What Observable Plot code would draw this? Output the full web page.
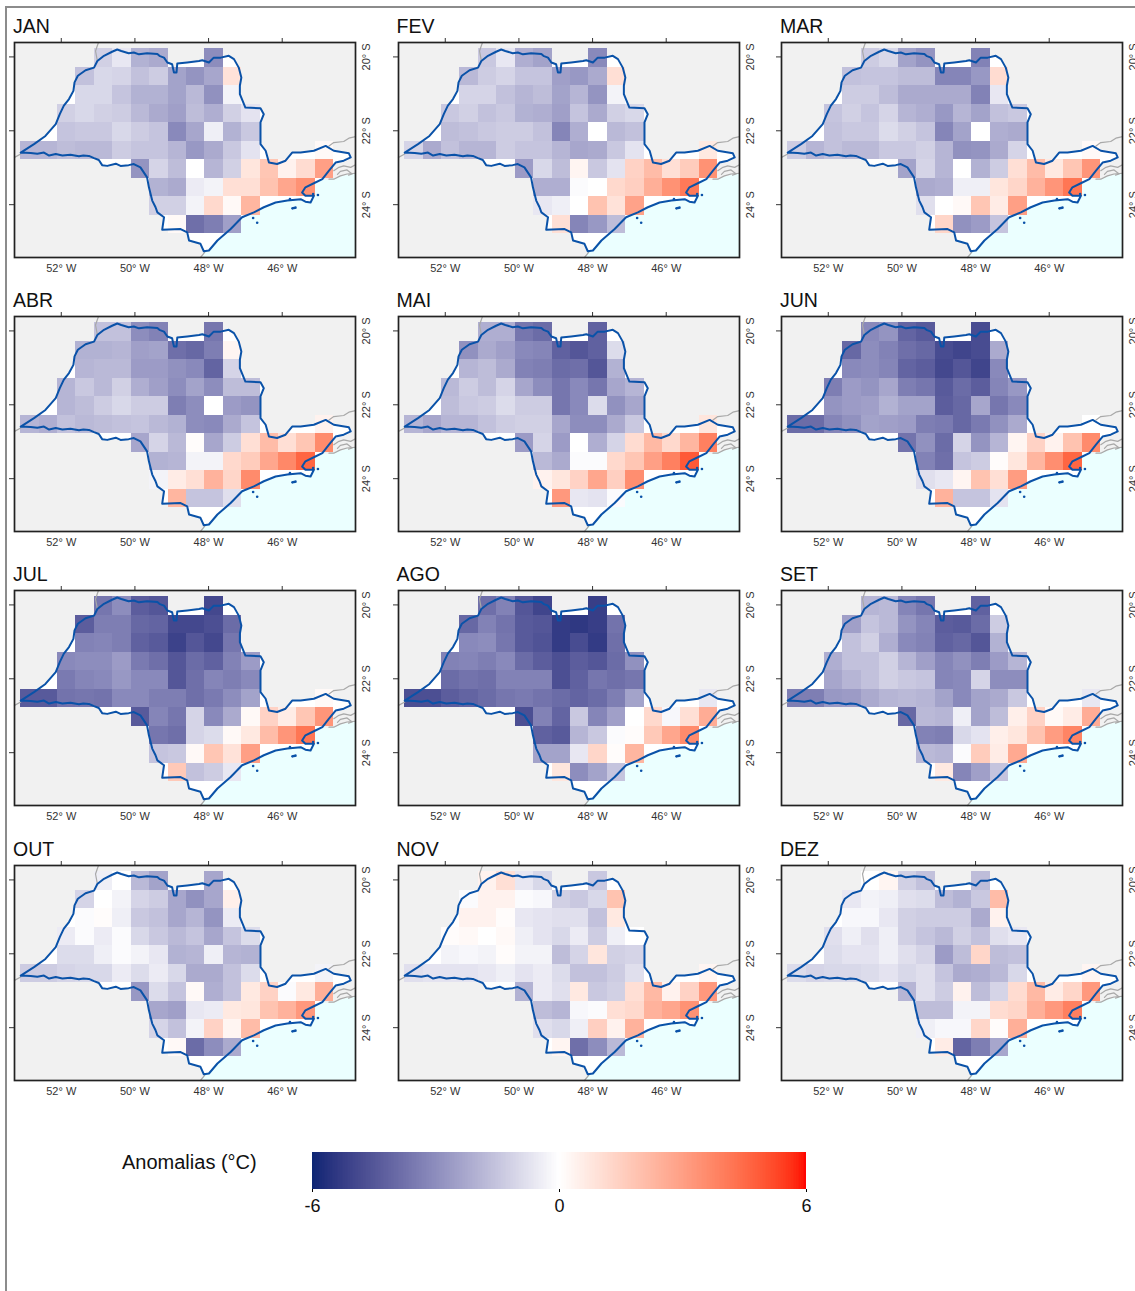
<!DOCTYPE html>
<html><head><meta charset="utf-8">
<script src="https://cdn.jsdelivr.net/npm/d3@7"></script>
<script src="https://cdn.jsdelivr.net/npm/@observablehq/plot@0.6"></script>
<style>
html,body{margin:0;padding:0;background:#fff;overflow:hidden}
#page{position:relative;width:1135px;height:1291px;overflow:hidden;font-family:"Liberation Sans",Arial,sans-serif}
#page svg{position:absolute;background:transparent;overflow:visible}
.rule{position:absolute;background:#8c8c8c}
.ttl{position:absolute;font-size:19.5px;line-height:20px;color:#111}
</style></head><body><div id="page"></div>
<script>
const months=["JAN","FEV","MAR","ABR","MAI","JUN","JUL","AGO","SET","OUT","NOV","DEZ"];
// grid rows: list of occupied columns, top row to bottom row
const rowCols=[[4,5,6,7,10],[3,4,5,6,7,8,9,10,11],[3,4,5,6,7,8,9,10,11],[2,3,4,5,6,7,8,9,10,11,12],[2,3,4,5,6,7,8,9,10,11,12],
[0,1,2,3,4,5,6,7,8,9,10,11,12,16],[6,7,8,9,10,11,12,13,14,15,16],[7,8,9,10,11,12,13,14,15],[7,8,9,10,11,12],[8,9,10,11]];
const westEdge=-53.10,northEdge=-19.78,cell=0.5;
const jan=[-1.2,-0.6,-2.0,-2.2,-3.0, -1.6,-1.0,-1.1,-1.6,-1.3,-2.4,-2.8,-2.3,0.9, -1.0,-1.0,-1.5,-2.0,-2.0,-2.4,-1.8,-2.9,-0.3,
-1.2,-1.0,-1.2,-1.3,-1.8,-2.2,-2.5,-1.7,-2.1,-1.2,-0.7, -1.5,-1.4,-1.4,-1.0,-1.3,-1.5,-3.1,-2.3,-0.4,-2.0,-1.4,
-1.9,-1.9,-1.7,-1.8,-1.8,-1.3,-1.5,-1.5,-1.9,-2.7,-2.2,-1.4,-0.7,0.2, -2.8,-1.1,-1.7,0,-1.9,-1.2,0.8,1.8,0.4,1.1,3.0,
-2.0,-2.2,-0.5,-0.3,1.0,1.0,1.9,2.8,3.4, -1.2,-1.2,-0.3,1.2,0.2,2.3, 0.2,-3.8,-3.4,-2.5];
const fev=[-1.4,-0.6,-2.1,-2.4,-3.1, -1.8,-1.3,-1.1,-1.5,-1.5,-2.5,-2.7,-2.2,1.0, -1.1,-1.1,-1.6,-1.9,-1.7,-2.4,-1.9,-2.8,-0.3,
-1.4,-1.2,-1.6,-1.4,-2.0,-2.1,-2.5,-1.5,-2.2,-1.2,-1.0, -1.7,-1.6,-1.4,-1.3,-1.3,-1.6,-3.2,-2.1,0,-1.8,-1.6,
-1.1,-2.2,-1.6,-1.9,-1.9,-1.3,-1.5,-1.5,-1.9,-2.3,-2.2,-1.4,-0.7,0.7, -2.6,-1.0,-1.7,0.3,-1.4,-0.7,1.4,2.1,1.0,1.6,3.4,
-2.1,-2.1,-0.1,0,1.2,1.5,2.5,3.4,4.1, -0.6,-0.4,0,1.9,0.9,2.9, 1.0,-3.2,-2.7,-1.7];
const mar=[-1.3,-1.0,-2.4,-2.8,-3.3, -1.6,-1.5,-1.5,-1.7,-1.7,-3.2,-3.2,-2.7,1.1, -1.3,-1.3,-1.7,-2.2,-2.2,-2.2,-2.2,-3.3,-0.6,
-1.5,-1.2,-1.5,-1.1,-1.9,-2.1,-2.7,-1.9,-2.4,-1.6,-1.4, -1.6,-1.4,-1.4,-0.9,-1.2,-1.5,-3.2,-2.4,0,-2.1,-2.2,
-1.3,-1.9,-1.6,-1.8,-1.8,-1.4,-1.4,-1.2,-1.9,-2.9,-2.8,-2.2,-1.1,0.2, -2.4,-1.1,-1.9,0,-2.0,-1.3,1.0,2.1,0.7,1.8,3.3,
-2.2,-2.1,-0.4,-0.4,0.8,1.3,2.4,3.3,4.2, -0.8,0,0.2,1.8,0.6,3.0, 1.3,-2.9,-2.6,-1.5];
const abr=[-1.6,-1.6,-3.0,-3.3,-3.6, -2.0,-2.0,-1.9,-2.5,-2.4,-3.8,-4.0,-3.4,0.3, -1.9,-1.8,-1.8,-2.6,-2.6,-2.9,-3.1,-4.1,-1.1,
-1.9,-1.4,-1.8,-1.2,-2.1,-2.5,-3.0,-2.4,-3.0,-1.7,-1.7, -1.9,-1.7,-1.3,-1.0,-1.3,-1.3,-3.4,-3.0,0,-2.6,-2.8,
-1.9,-2.1,-1.6,-1.8,-1.7,-1.6,-1.5,-1.8,-2.0,-3.0,-3.1,-2.2,-1.5,0.4, -2.3,-1.1,-1.8,0.1,-2.3,-1.3,1.0,2.1,1.0,1.8,3.6,
-2.0,-1.9,-0.3,-0.3,1.2,1.6,2.8,3.7,4.6, -0.3,0.6,1.0,2.4,1.3,3.6, 2.3,-1.5,-1.5,-0.8];
const mai=[-2.1,-2.1,-3.6,-3.9,-4.2, -2.9,-2.2,-2.5,-3.1,-3.2,-4.2,-4.5,-4.2,-0.9, -1.9,-1.7,-2.2,-3.3,-3.4,-3.9,-3.8,-4.5,-2.0,
-1.8,-1.3,-1.7,-1.1,-2.3,-3.0,-3.6,-3.1,-3.6,-2.3,-1.9, -1.7,-1.4,-1.3,-0.9,-1.3,-1.3,-3.6,-3.1,-0.9,-2.9,-2.3,
-1.9,-2.3,-1.9,-1.9,-1.6,-1.3,-1.2,-1.2,-2.3,-3.0,-3.0,-2.2,-1.4,0.8, -2.6,-1.1,-2.6,0,-2.1,-1.1,1.1,2.2,1.2,2.3,3.9,
-1.8,-2.2,-0.1,-0.1,1.2,1.8,3.0,3.9,4.9, 0.4,0.8,1.4,2.8,1.5,3.5, 3.2,-0.6,-0.7,-0.1];
const jun=[-3.1,-2.8,-4.1,-4.4,-4.8, -4.0,-3.0,-3.3,-3.8,-4.0,-4.8,-5.0,-4.8,-2.2, -3.1,-3.0,-3.2,-4.1,-4.3,-4.9,-4.5,-5.0,-3.1,
-3.4,-2.6,-2.8,-2.3,-3.4,-3.6,-4.4,-3.9,-4.3,-3.2,-2.7, -2.8,-2.6,-2.5,-2.0,-2.4,-2.4,-4.3,-4.0,-2.3,-3.6,-3.1,
-3.9,-3.9,-3.2,-2.9,-2.4,-2.5,-2.6,-3.4,-3.5,-4.0,-3.5,-2.9,-2.2,0, -3.7,-2.9,-3.9,-1.1,-2.8,-1.9,0.3,1.4,0.4,1.9,3.6,
-3.3,-3.8,-1.5,-1.3,0.1,0.8,2.3,3.5,4.6, -0.8,-0.6,0.3,1.9,1.0,3.1, 2.4,-1.5,-1.5,-0.7];
const jul=[-3.6,-3.0,-4.3,-4.5,-4.9, -4.3,-3.4,-3.4,-4.0,-4.1,-4.9,-4.9,-4.7,-3.9, -3.3,-3.2,-3.4,-4.2,-4.4,-5.1,-4.5,-4.9,-3.6,
-3.1,-3.0,-3.0,-2.6,-3.5,-3.8,-4.5,-3.9,-4.2,-3.3,-2.6, -3.5,-3.2,-3.1,-2.7,-3.1,-3.1,-4.5,-3.8,-3.2,-3.4,-3.1,
-4.4,-4.4,-3.7,-3.6,-3.7,-3.1,-3.1,-3.4,-3.4,-3.8,-3.5,-3.0,-2.4,0.2, -4.4,-3.2,-3.6,-1.1,-3.1,-2.2,0.2,1.4,0.6,1.8,3.3,
-3.6,-3.8,-1.1,-0.9,0.2,0.7,2.1,3.3,4.2, -1.5,-1.4,0.2,1.8,0.9,3.0, 1.7,-1.6,-1.3,-0.6];
const ago=[-3.8,-3.3,-4.5,-5.0,-5.2, -4.0,-3.3,-3.7,-4.4,-4.5,-5.3,-5.4,-5.2,-3.7, -3.1,-3.0,-3.6,-4.4,-4.6,-5.3,-4.8,-5.3,-3.8,
-3.3,-3.2,-3.4,-3.1,-3.9,-4.3,-4.7,-4.3,-4.5,-3.9,-2.9, -3.9,-3.7,-3.8,-3.3,-3.3,-3.3,-4.7,-4.2,-3.6,-3.8,-3.6,
-4.7,-4.7,-4.3,-4.1,-3.9,-3.6,-3.5,-3.7,-3.9,-4.1,-3.9,-3.4,-2.4,-0.6, -4.7,-3.3,-4.1,-1.4,-3.2,-2.5,0,1.2,-0.2,1.0,2.6,
-4.2,-4.4,-1.9,-1.4,-0.1,0.1,1.7,2.8,3.6, -2.4,-2.4,-0.6,1.3,0.1,2.3, 0.8,-3.0,-2.4,-1.5];
const set=[-1.9,-1.8,-3.2,-3.6,-4.2, -2.5,-1.5,-1.8,-2.8,-3.2,-4.3,-4.4,-3.9,-1.3, -1.6,-1.2,-2.1,-3.1,-3.3,-4.2,-4.0,-4.5,-2.0,
-2.1,-1.6,-1.6,-1.2,-1.9,-2.5,-3.2,-2.9,-3.4,-2.6,-1.9, -2.3,-1.9,-1.6,-1.2,-1.4,-1.5,-3.2,-3.1,-1.1,-3.0,-3.0,
-3.4,-3.4,-2.7,-2.6,-2.2,-1.9,-1.8,-1.9,-2.4,-3.1,-2.4,-2.2,-1.4,-0.6, -4.0,-1.8,-1.9,-0.4,-2.4,-1.7,0.5,1.4,0.2,0.6,2.6,
-3.3,-3.4,-1.0,-0.7,0.5,0.8,1.9,3.1,3.8, -1.8,-1.9,-0.1,1.6,0.6,2.7, 0.7,-3.2,-2.5,-1.5];
const out=[-0.4,0,-1.8,-2.4,-2.3, -1.1,0,-0.3,-1.1,-1.3,-2.3,-2.9,-2.3,0.5, -0.1,0.1,-0.4,-1.4,-1.6,-2.3,-1.9,-2.8,-0.5,
-0.5,-0.1,-0.5,-0.1,-1.0,-1.4,-1.8,-1.5,-2.3,-1.5,-0.9, -0.9,-0.9,-0.4,-0.1,-0.3,-0.6,-2.0,-1.9,-0.4,-1.9,-2.0,
-1.3,-1.3,-1.1,-1.0,-1.0,-0.5,-0.9,-0.5,-1.0,-2.2,-2.2,-1.6,-0.9,-0.3, -2.7,-0.9,-1.5,0.2,-2.1,-1.6,0.7,1.4,-0.1,0.7,2.5,
-2.3,-2.5,-0.6,-0.5,0.7,0.8,1.9,2.4,3.2, -1.1,-1.6,-0.3,1.4,0.3,2.1, 0.2,-3.9,-3.0,-2.2];
const nov=[0.4,1.0,-0.6,-1.0,-1.4, -0.1,0.4,0.4,-0.1,-0.2,-1.2,-1.4,-1.0,1.9, 0.4,0.4,0.1,-0.6,-0.7,-0.8,-0.8,-1.6,0.7,
0.1,0.2,0,0.2,-0.4,-0.7,-1.0,-0.5,-1.3,-0.4,0, -0.3,-0.2,-0.3,0.1,-0.3,-0.3,-1.7,-1.1,0.8,-1.2,-1.1,
-0.8,-0.7,-0.7,-0.7,-0.6,-0.4,-0.7,-0.5,-0.9,-1.6,-1.6,-1.3,-0.8,0.3, -2.0,-0.5,-0.8,0.7,-1.4,-1.2,1.0,2.2,0.4,1.4,3.2,
-1.7,-1.9,-0.2,-0.1,1.0,1.2,2.4,2.8,3.4, -0.8,-1.0,-0.4,1.5,0.4,2.4, 0.3,-3.8,-3.0,-1.8];
const dez=[0,0.3,-1.2,-1.6,-1.7, -0.6,-0.3,-0.4,-0.8,-0.9,-1.7,-2.0,-1.4,2.1, -0.2,-0.2,-0.6,-1.2,-1.3,-1.3,-1.3,-2.2,0.4,
-0.8,-0.4,-0.8,-0.4,-1.2,-1.5,-1.8,-1.2,-1.6,-0.8,-0.6, -0.9,-0.7,-0.7,-0.4,-0.8,-1.1,-2.6,-1.7,1.3,-1.7,-1.6,
-0.9,-1.1,-1.0,-1.0,-0.9,-0.7,-1.0,-0.8,-1.5,-2.2,-2.1,-1.8,-1.0,0.3, -1.9,-0.8,-1.3,0.4,-1.7,-1.1,1.1,2.2,0.6,1.3,3.2,
-1.7,-1.7,-0.3,-0.3,1.1,1.3,2.5,3.2,3.9, -0.4,-0.2,-0.2,1.3,0.1,2.5, 0.6,-4.1,-3.4,-2.3];
const monthValues=[jan,fev,mar,abr,mai,jun,jul,ago,set,out,nov,dez];
// state outline, lon/lat
const stateLon=[-53.10,-52.74,-52.43,-52.15,-52.04,-51.93,-51.79,-51.67,-51.64,-51.55,-51.34,-51.11,-51.02,-50.84,-50.62,-50.48,-50.37,-50.17,-50.03,-49.89,-49.67,-49.39,-49.32,-49.21,-49.12,-48.99,-48.94,-48.87,-48.85,-48.58,-48.26,-48.17,-47.99,-47.86,-47.67,-47.45,-47.31,-47.18,-47.11,-47.15,-47.15,-47.00,-46.59,-46.50,-46.59,-46.59,-46.59,-46.45,-46.36,-46.14,-45.91,-45.73,-45.50,-45.14,-44.82,-44.60,-44.19,-44.14,-44.33,-44.55,-44.73,-44.91,-45.10,-45.37,-45.46,-45.37,-45.14,-45.23,-45.37,-45.50,-45.86,-46.18,-46.50,-46.77,-47.09,-47.40,-47.76,-47.99,-48.13,-48.22,-48.53,-48.58,-48.76,-49.26,-49.21,-49.39,-49.44,-49.53,-49.62,-49.67,-49.85,-50.03,-50.17,-50.39,-50.52,-50.75,-50.89,-50.98,-51.11,-51.25,-51.40,-51.52,-51.75,-51.97,-52.15,-52.33,-52.47,-52.65,-52.83,-53.10];
const stateLat=[-22.59,-22.36,-22.14,-21.82,-21.55,-21.32,-21.14,-20.92,-20.69,-20.51,-20.36,-20.29,-20.11,-19.97,-19.86,-19.80,-19.84,-19.90,-19.88,-19.93,-19.90,-19.92,-19.98,-20.02,-20.15,-20.20,-20.42,-20.42,-20.18,-20.15,-20.11,-20.09,-20.15,-20.02,-20.02,-19.97,-20.06,-20.29,-20.56,-20.78,-21.01,-21.37,-21.39,-21.55,-21.77,-22.09,-22.36,-22.54,-22.86,-22.90,-22.81,-22.59,-22.59,-22.54,-22.41,-22.54,-22.61,-22.72,-22.81,-22.86,-23.08,-23.31,-23.40,-23.53,-23.67,-23.76,-23.76,-23.94,-23.92,-23.85,-23.89,-23.94,-24.07,-24.21,-24.34,-24.66,-24.97,-25.24,-25.26,-25.06,-24.97,-24.75,-24.66,-24.68,-24.34,-24.21,-24.07,-23.89,-23.53,-23.26,-22.99,-22.90,-22.93,-22.95,-22.89,-22.95,-22.93,-22.79,-22.74,-22.68,-22.67,-22.69,-22.65,-22.67,-22.63,-22.67,-22.59,-22.62,-22.60,-22.59];
// sea polygon, lon/lat
const seaLon=[-48.20,-48.13,-47.99,-47.76,-47.40,-47.09,-46.77,-46.50,-46.18,-45.86,-45.50,-45.23,-45.10,-44.91,-44.73,-44.42,-44.01,-44.01];
const seaLat=[-25.43,-25.26,-25.24,-24.97,-24.66,-24.34,-24.21,-24.07,-23.94,-23.89,-23.85,-23.94,-23.40,-23.31,-23.33,-23.24,-23.14,-25.43];
// neighbouring borders (grey), lon/lat by line
const greyLines=[
[[-50.99,-19.61],[-51.07,-19.84],[-51.02,-20.11]],
[[-44.73,-22.41],[-44.60,-22.32],[-44.33,-22.29],[-44.19,-22.20],[-44.01,-22.16]],
[[-44.73,-23.31],[-44.60,-23.31],[-44.42,-23.22],[-44.24,-23.17],[-44.01,-23.15]],
[[-44.60,-23.08],[-44.46,-22.99],[-44.33,-22.95],[-44.14,-22.99],[-44.01,-22.92]],
[[-44.50,-23.18],[-44.42,-23.10],[-44.24,-23.06],[-44.10,-23.17],[-44.20,-23.20]],
[[-53.27,-22.72],[-53.10,-22.63]],
[[-48.22,-25.43],[-48.08,-25.26]]];
// small islands, lon/lat
const islandLon=[-46.79,-46.68,-45.68,-45.72,-45.64,-45.79,-45.03,-45.16];
const islandLat=[-24.36,-24.49,-24.09,-24.10,-24.08,-23.85,-23.74,-23.71];
const lonTicks=[-52,-50,-48,-46], latTicks=[-24,-22,-20];
const lonDomain=[-53.27,-44.01], latDomain=[-25.43,-19.61];
const legendTicks=[-6,0,6];
const colorScale={type:"linear",domain:[-6,-3,0,3,6],range:["#0b2574","#8d8dbd","#ffffff","#ff9f85","#ff0000"],interpolate:"lab"};

const cols=[14,397.5,781], tops=[42,316,590,865];
const frameW=341, frameH=215, mL=9, mT=8, mR=30, mB=22;
const page=document.getElementById("page");
const state=stateLon.map((x,i)=>({x,y:stateLat[i]}));
const sea=seaLon.map((x,i)=>({x,y:seaLat[i]}));
const grey=greyLines.flatMap((l,k)=>l.map(([x,y])=>({x,y,k})));
const islands=islandLon.map((x,i)=>({x,y:islandLat[i]}));
const cells=rowCols.flatMap((cs,r)=>cs.map(c=>({c,r})));

function add(el,l,t){el.style.left=l+"px";el.style.top=t+"px";page.appendChild(el)}
for(const [cls,l,t,w,h] of [["rule",5,6,2,1285],["rule",5,6,1130,2]]){
  const d=document.createElement("div");d.className=cls;d.style.width=w+"px";d.style.height=h+"px";add(d,l,t);
}
months.forEach((m,i)=>{
  const L=cols[i%3],T=tops[Math.floor(i/3)],vals=monthValues[i];
  const data=cells.map((d,j)=>({x1:westEdge+d.c*cell,x2:westEdge+(d.c+1)*cell,y1:northEdge-d.r*cell,y2:northEdge-(d.r+1)*cell,v:vals[j]}));
  const svg=Plot.plot({
    width:frameW+mL+mR,height:frameH+mT+mB,marginLeft:mL,marginRight:mR,marginTop:mT,marginBottom:mB,
    style:{fontFamily:"'Liberation Sans',Arial,sans-serif",fontSize:"11px",background:"transparent"},
    x:{domain:lonDomain},y:{domain:latDomain},color:colorScale,
    marks:[
      Plot.frame({fill:"#f1f1f1",stroke:"none"}),
      Plot.line(sea,{x:"x",y:"y",fill:"#ebffff",stroke:"none"}),
      Plot.line(state,{x:"x",y:"y",fill:"#ffffff",stroke:"none"}),
      Plot.rect(data,{x1:"x1",x2:"x2",y1:"y1",y2:"y2",fill:"v",shapeRendering:"crispEdges"}),
      Plot.line(grey,{x:"x",y:"y",z:"k",stroke:"#a8a8a8",strokeWidth:1.2}),
      Plot.line(state,{x:"x",y:"y",stroke:"#0a52a8",strokeWidth:2,strokeLinejoin:"round"}),
      Plot.dot(islands,{x:"x",y:"y",r:1.3,fill:"#0a52a8"}),
      Plot.axisX({anchor:"top",ticks:lonTicks,tickSize:5,tickFormat:()=>"",label:null,stroke:"#333"}),
      Plot.axisY({anchor:"left",ticks:latTicks,tickSize:5,tickFormat:()=>"",label:null,stroke:"#333"}),
      Plot.axisX({anchor:"bottom",ticks:lonTicks,tickSize:0,tickPadding:7,tickFormat:d=>`${-d}° W`,label:null,fill:"#333"}),
      Plot.axisY({anchor:"right",ticks:latTicks,tickSize:0,tickPadding:14,tickRotate:-90,tickFormat:d=>`${-d}° S`,label:null,fill:"#333"}),
      Plot.frame({stroke:"#222",strokeWidth:1.7})
    ]
  });
  add(svg,L-mL,T-mT);
  const t=document.createElement("div");t.className="ttl";t.textContent=m;add(t,L-1,T-26);
});
// colour bar
const steps=d3.range(-6,6,0.04);
const bar=Plot.plot({
  width:494+40,height:37+40,marginLeft:20,marginRight:20,marginTop:0,marginBottom:40,
  style:{fontFamily:"'Liberation Sans',Arial,sans-serif",fontSize:"18px",background:"transparent"},
  x:{domain:[-6,6]},color:colorScale,
  marks:[
    Plot.rect(steps,{x1:d=>d,x2:d=>d+0.04,fill:d=>d+0.02,shapeRendering:"crispEdges"}),
    Plot.axisX({anchor:"bottom",ticks:legendTicks,tickSize:3,tickPadding:7,tickFormat:d=>String(d),label:null,fill:"#111"})
  ]
});
add(bar,312-20,1152);
const lg=document.createElement("div");lg.className="ttl";lg.style.fontSize="20px";lg.textContent="Anomalias (°C)";add(lg,122,1152);
</script></body></html>
